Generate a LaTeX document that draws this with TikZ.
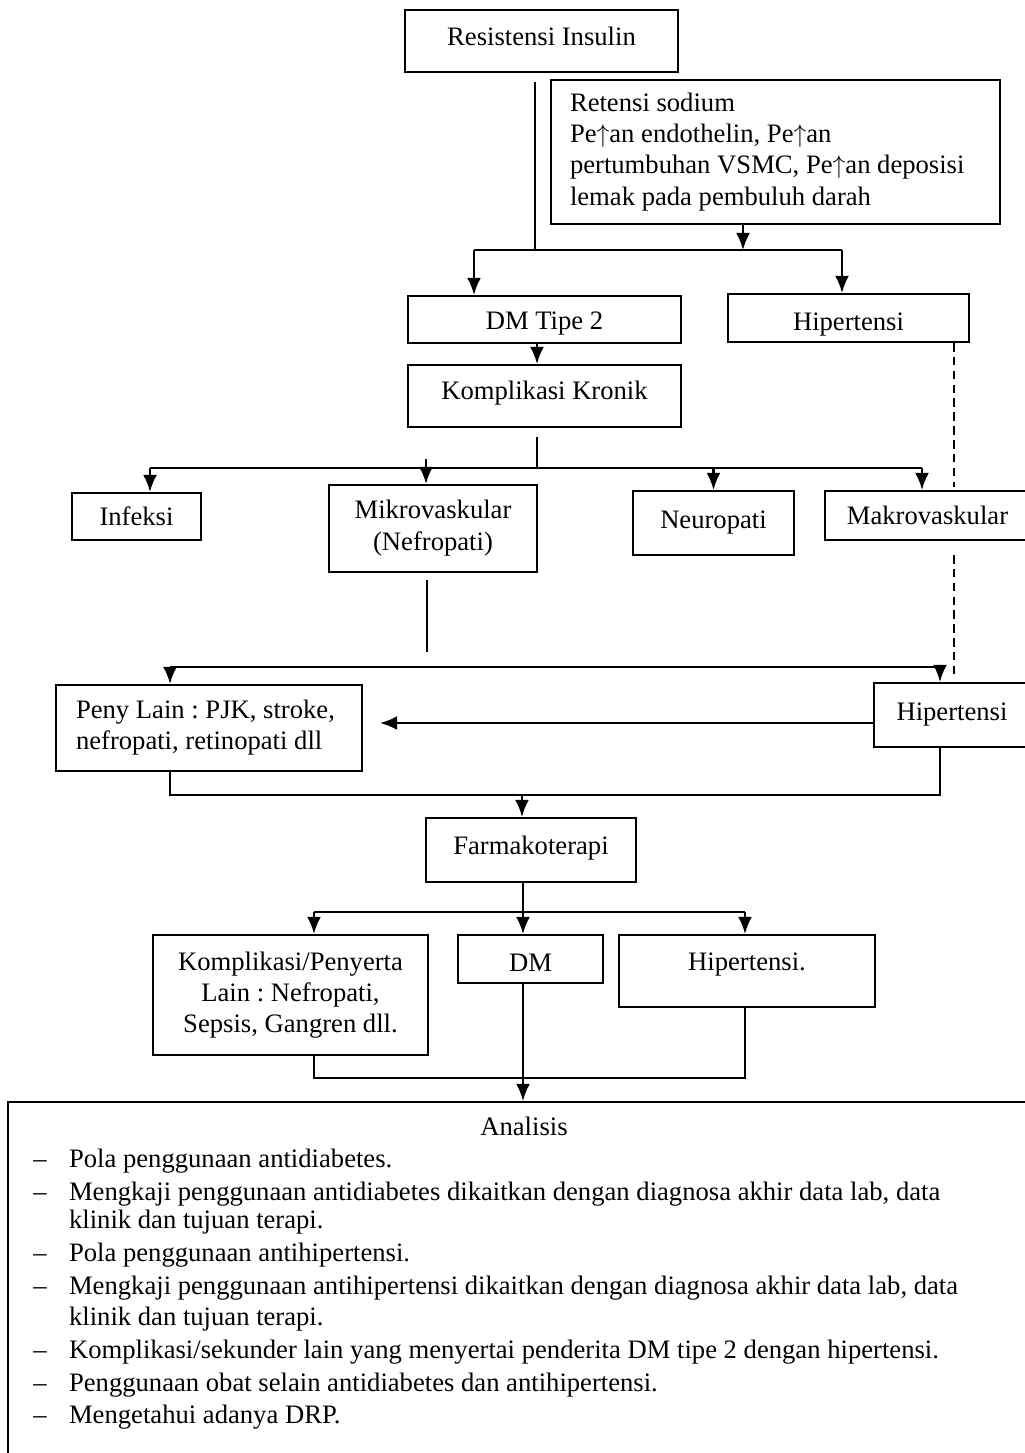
\documentclass[tikz,border=0pt]{standalone}
\usepackage{fontspec}
\setmainfont{Liberation Serif}
\usetikzlibrary{arrows.meta}
\frenchspacing
\newcommand{\pxu}{0.0165cm}
\tikzset{
  kotak/.style={draw, inner sep=0pt, align=center, font=\fontsize{12.5}{14.6}\selectfont},
  pan/.style={-{Latex[length=8pt,width=6.5pt]}},
  putus/.style={dash pattern=on 4pt off 2.5pt},
  baris/.style={anchor=base west, inner sep=0pt, font=\fontsize{12.5}{14.4}\selectfont}
}
\begin{document}
\begin{tikzpicture}[x=0.0165cm,y=-0.0165cm,line width=1pt]
\useasboundingbox (0,0) rectangle (1025,1453);
\clip (0,0) rectangle (1025,1453);
\fill[white] (0,0) rectangle (1025,1453);
%
\node[kotak,minimum width=273*\pxu,minimum height=62*\pxu,text depth=10*\pxu] (resist) at (541.5,41) {Resistensi Insulin};
\node[kotak,minimum width=449*\pxu,minimum height=144*\pxu,text width=411*\pxu,align=flush left] (retensi) at (775.5,152)
  {Retensi sodium\\Pe$\uparrow$an endothelin, Pe$\uparrow$an\\pertumbuhan VSMC, Pe$\uparrow$an deposisi\\lemak pada pembuluh darah};
\node[kotak,minimum width=273*\pxu,minimum height=47*\pxu,text height=12pt] (dm) at (544.5,319.5) {DM Tipe 2};
\node[kotak,minimum width=241*\pxu,minimum height=48*\pxu,text height=14.5pt] (hip1) at (848.5,318) {Hipertensi};
\node[kotak,minimum width=273*\pxu,minimum height=62*\pxu,text depth=12*\pxu] (kronik) at (544.5,396) {Komplikasi Kronik};
%
\node[kotak,minimum width=129*\pxu,minimum height=47*\pxu] (infeksi) at (136.5,516.5) {Infeksi};
\node[kotak,minimum width=208*\pxu,minimum height=87*\pxu,font=\fontsize{12.5}{15}\selectfont] (mikro) at (433,528.5) {Mikrovaskular\\(Nefropati)};
\node[kotak,minimum width=161*\pxu,minimum height=64*\pxu] (neuro) at (713.5,523) {Neuropati};
\node[kotak,minimum width=205*\pxu,minimum height=49*\pxu] (makro) at (927.5,515.5) {Makrovaskular};
%
\node[kotak,minimum width=306*\pxu,minimum height=86*\pxu,text width=266*\pxu,align=flush left] (peny) at (209,728)
  {Peny Lain : PJK, stroke,\\nefropati, retinopati dll};
\node[kotak,minimum width=156*\pxu,minimum height=64*\pxu] (hip2) at (952,715) {Hipertensi};
\node[kotak,minimum width=210*\pxu,minimum height=64*\pxu,text depth=9*\pxu] (farma) at (531,850) {Farmakoterapi};
%
\node[kotak,minimum width=275*\pxu,minimum height=120*\pxu] (komp) at (290.5,995) {Komplikasi/Penyerta\\Lain : Nefropati,\\Sepsis, Gangren dll.};
\node[kotak,minimum width=145*\pxu,minimum height=48*\pxu,text height=12pt] (dm2) at (530.5,959) {DM};
\node[kotak,minimum width=256*\pxu,minimum height=72*\pxu,text depth=19*\pxu] (hip3) at (747,971) {Hipertensi.};
\node[kotak,minimum width=1032*\pxu,minimum height=368*\pxu] (anl) at (524,1286) {};
%
% titik bantu
\coordinate (r1) at (535,82);
\coordinate (c1) at (474,250);
\coordinate (c2) at (842,250);
\coordinate (c3) at (743,250);
\coordinate (k1) at (537,437);
\coordinate (d1) at (150,468);
\coordinate (d2) at (922,468);
\coordinate (mk) at (426,459);
\coordinate (h1) at (954,487);
\coordinate (h2) at (954,555);
\coordinate (h3) at (954,676);
\coordinate (m1) at (427,580);
\coordinate (m2) at (427,652);
\coordinate (e1) at (170,667);
\coordinate (e2) at (940,667);
\coordinate (p1) at (380,723);
\coordinate (f0) at (522,795);
\coordinate (g0) at (523,912);
\coordinate (g1) at (314,912);
\coordinate (g2) at (745,912);
\coordinate (q0) at (523,1078);
%
\draw (r1)--(r1|-c1);
\draw (c1)--(c2);
\draw[pan] (c1)--(c1|-dm.north);
\draw[pan] (c2)--(c2|-hip1.north);
\draw[pan] (retensi.south-|c3)--(c3);
\draw[pan] (dm.south-|k1)--(kronik.north-|k1);
\draw (k1)--(k1|-d1);
\draw (d1)--(d2);
\draw[pan] (d1)--(d1|-infeksi.north);
\draw[pan] (mk)--(mk|-mikro.north);
\draw[pan] (neuro.north|-d1)--(neuro.north);
\draw[pan] (d2)--(d2|-makro.north);
\draw[putus] (hip1.south-|h1)--(h1);
\draw[putus] (h2)--(h3);
%
\draw (m1)--(m2);
\draw (e1)--(e2);
\draw[pan] (e1)--(e1|-peny.north);
\draw[pan] (e2)--(e2|-hip2.north);
\draw[pan] (hip2.west|-p1)--(p1);
\draw (peny.south-|e1)--(e1|-f0)--(e2|-f0)--(hip2.south-|e2);
\draw[pan] (f0)--(farma.north-|f0);
%
\draw (farma.south-|g0)--(g0);
\draw (g1)--(g2);
\draw[pan] (g1)--(g1|-komp.north);
\draw[pan] (g0)--(g0|-dm2.north);
\draw[pan] (g2)--(g2|-hip3.north);
\draw (komp.south-|g1)--(g1|-q0)--(g2|-q0)--(hip3.south-|g2);
\draw[pan] (dm2.south-|q0)--(anl.north-|q0);
%
% isi analisis
\node[baris,anchor=base] (judul) at (524,1135) {Analisis};
\foreach \yy in {1167,1200,1261,1294,1358,1391,1423}
  \node[baris,anchor=base] (s\yy) at (40,\yy) {--};
\foreach \yy/\isi in {1167/{Pola penggunaan antidiabetes.},
  1200/{Mengkaji penggunaan antidiabetes dikaitkan dengan diagnosa akhir data lab, data},
  1228/{klinik dan tujuan terapi.},
  1261/{Pola penggunaan antihipertensi.},
  1294/{Mengkaji penggunaan antihipertensi dikaitkan dengan diagnosa akhir data lab, data},
  1325/{klinik dan tujuan terapi.},
  1358/{Komplikasi/sekunder lain yang menyertai penderita DM tipe 2 dengan hipertensi.},
  1391/{Penggunaan obat selain antidiabetes dan antihipertensi.},
  1423/{Mengetahui adanya DRP.}}
  \node[baris] (b\yy) at (68,\yy) {\isi};
\end{tikzpicture}
\end{document}
